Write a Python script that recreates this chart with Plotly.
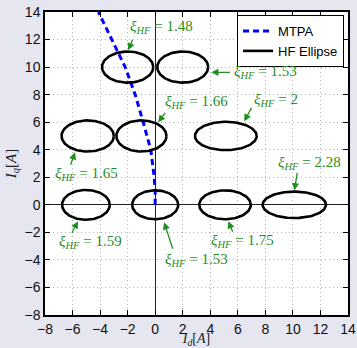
import numpy as np
import plotly.graph_objects as go

# ---- data ----
mtpa_id = [0, 0, -0.07, -0.32, -0.87, -1.45, -2.18, -3.15, -4.12]
mtpa_iq = [0, 1, 2, 4, 6, 8, 10, 12, 14]

ell_cd = [-2.0, 2.0, -4.9, -1.0, 5.13, -5.03, 0.0, 5.07, 10.1]
ell_cq = [10.0, 10.0, 5.0, 5.0, 5.0, 0.0, 0.0, 0.0, 0.0]
ell_ad = [1.86, 1.85, 1.9, 1.82, 2.24, 1.73, 1.67, 1.87, 2.3]
ell_bq = [1.13, 1.13, 1.13, 1.13, 1.03, 1.08, 1.05, 1.05, 0.96]

xi_labels = ["1.48", "1.53", "1.66", "2", "1.65", "2.28", "1.59", "1.53", "1.75"]

tick_vals = [-8, -6, -4, -2, 0, 2, 4, 6, 8, 10, 12, 14]

# annotation layout (text left/centre, arrow tail, arrow tip) in axis units
txt_pos = [(-1.96, 12.89), (5.6, 9.62), (0.58, 7.44), (7.05, 7.59), (-7.42, 2.21),
           (8.8, 3.01), (-7.13, -2.72), (0.58, -4.03), (3.93, -2.65)]
tail_pos = [(-1.6, 12.09), (5.53, 9.62), (0.8, 6.79), (7.05, 7.15), (-6.18, 2.8),
            (10.33, 2.43), (-6.11, -2.14), (1.31, -3.30), (5.67, -2.07)]
tip_pos = [(-1.96, 11.22), (4.07, 9.62), (0.22, 5.99), (6.47, 6.06), (-5.82, 3.81),
           (10.11, 1.05), (-5.6, -1.2), (0.65, -1.27), (5.31, -1.2)]

GREEN = "#1f8f1f"
SERIF = "Liberation Serif, DejaVu Serif, serif"
SANS = "Liberation Sans, Arial, sans-serif"

fig = go.Figure()
fig.add_trace(go.Scatter(x=mtpa_id, y=mtpa_iq, mode="lines", name="MTPA",
                         line=dict(color="#0000ff", width=3, dash="6px,4px")))

t = np.linspace(0, 2 * np.pi, 121)
ex, ey = [], []
for cd, cq, a, b in zip(ell_cd, ell_cq, ell_ad, ell_bq):
    ex += list(cd + a * np.cos(t)) + [None]
    ey += list(cq + b * np.sin(t)) + [None]
fig.add_trace(go.Scatter(x=ex, y=ey, mode="lines", name="HF Ellipse",
                         line=dict(color="black", width=2.6)))

annots = []
for lab, (tx, ty), (ax, ay), (hx, hy) in zip(xi_labels, txt_pos, tail_pos, tip_pos):
    annots.append(dict(x=tx, y=ty, xref="x", yref="y", showarrow=False,
                       xanchor="left", yanchor="middle", yshift=0,
                       text="<i>ξ</i><sub><i>HF</i></sub> = " + lab,
                       font=dict(family=SERIF, size=15, color=GREEN)))
    annots.append(dict(x=hx, y=hy, ax=ax, ay=ay, xref="x", yref="y",
                       axref="x", ayref="y", text="", showarrow=True,
                       arrowhead=2, arrowsize=1.1, arrowwidth=1.3,
                       arrowcolor=GREEN, standoff=0, startstandoff=0))

axis_common = dict(range=[-8, 14], tickvals=tick_vals, showgrid=True,
                   gridcolor="#b4b4b4", griddash="1px,3px", gridwidth=1,
                   zeroline=True, zerolinecolor="#222222", zerolinewidth=1.2,
                   showline=True, linecolor="black", linewidth=1.5, mirror="ticks",
                   ticks="inside", ticklen=5, tickcolor="black", automargin=False,
                   tickfont=dict(family=SANS, size=14, color="#111111"))

fig.update_layout(
    width=357, height=348,
    margin=dict(l=45, r=9, t=12, b=33),
    paper_bgcolor="#e6e6f0", plot_bgcolor="white",
    xaxis=dict(**axis_common,
               title=dict(text="<i>I</i><sub><i>d</i></sub>[<i>A</i>]",
                          font=dict(family=SERIF, size=14, color="#222222"), standoff=2)),
    yaxis=dict(**axis_common,
               title=dict(text="<i>I</i><sub><i>q</i></sub>[<i>A</i>]",
                          font=dict(family=SERIF, size=15, color="#222222"), standoff=4)),
    legend=dict(x=0.987, y=0.99, xanchor="right", yanchor="top",
                bgcolor="white", bordercolor="black", borderwidth=1,
                font=dict(family=SANS, size=13, color="black"),
                tracegroupgap=0, itemwidth=30),
    annotations=annots,
    showlegend=True,
)

fig.write_html("out.html", config={"displayModeBar": False},
               post_script="document.body.style.margin='0';document.body.style.background='#e6e6f0';")
